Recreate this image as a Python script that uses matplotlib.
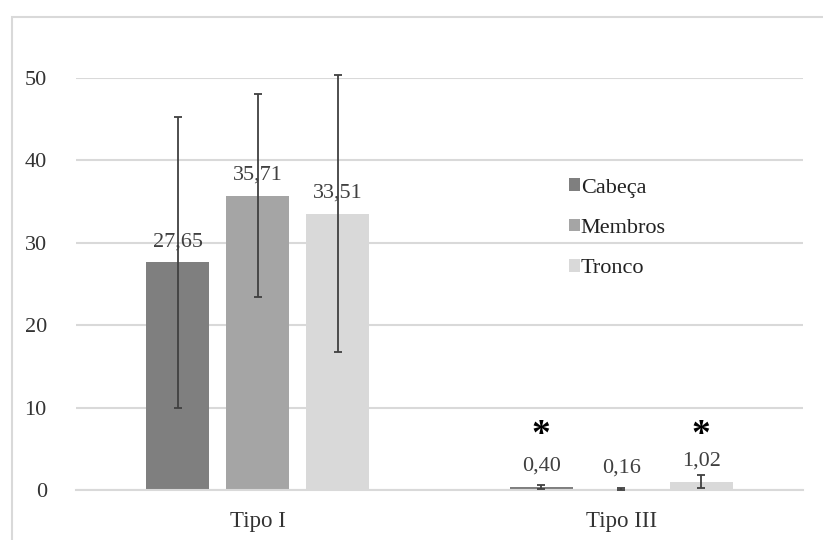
import matplotlib.pyplot as plt
import numpy as np
from matplotlib.patches import Rectangle

# ---------------------------------------------------------------------------
# Data
# ---------------------------------------------------------------------------
categories = ["Tipo I", "Tipo III"]
series_names = ["Cabeça", "Membros", "Tronco"]
cabeca = [27.65, 0.40]
membros = [35.71, 0.16]
tronco = [33.51, 1.02]
cabeca_err = [17.65, 0.25]
membros_err = [12.3, 0.12]
tronco_err = [16.8, 0.75]
value_labels = [["27,65", "0,40"], ["35,71", "0,16"], ["33,51", "1,02"]]
star_marks = [[False, True], [False, False], [False, True]]
y_ticks = [0, 10, 20, 30, 40, 50]

colors = ["#7f7f7f", "#a5a5a5", "#d9d9d9"]
err_color = "#404040"

plt.rcParams["font.family"] = ["Liberation Serif", "DejaVu Serif"]

fig = plt.figure(figsize=(8.23, 5.40), dpi=100)
# outer chart border
fig.patches.append(Rectangle((12 / 823, -0.05), 1.0, (540 - 17) / 540 + 0.05,
                             transform=fig.transFigure, fill=False,
                             edgecolor="#d9d9d9", linewidth=1.5))

ax = fig.add_axes([76 / 823, 50 / 540, 727 / 823, 412 / 540])

x = np.arange(len(categories))
width = 0.173
step = 0.22
values = [cabeca, membros, tronco]
errors = [cabeca_err, membros_err, tronco_err]

for i, (vals, errs) in enumerate(zip(values, errors)):
    pos = x + (i - 1) * step
    ax.bar(pos, vals, width, color=colors[i], label=series_names[i], zorder=2)
    ax.errorbar(pos, vals, yerr=errs, fmt="none", ecolor=err_color,
                elinewidth=1.3, capsize=3, capthick=1.3, zorder=3, clip_on=False)
    for j, p in enumerate(pos):
        ax.text(p, vals[j] + 2.5, value_labels[i][j], ha="center", va="center",
                fontsize=16, color="#404040")
        if star_marks[i][j]:
            ax.text(p, 6.6, "*", ha="center", va="center", fontsize=27,
                    fontweight="bold", color="black")

ax.set_xlim(-0.5, 1.5)
ax.set_ylim(0, 50)
ax.set_yticks(y_ticks)
ax.set_yticklabels([str(t) for t in y_ticks], fontsize=16, color="#333333")
ax.set_xticks(x)
ax.set_xticklabels(categories, fontsize=16.5, color="#333333")
ax.tick_params(axis="both", length=0)
ax.tick_params(axis="y", pad=21)
ax.tick_params(axis="x", pad=15)
ax.yaxis.grid(True, color="#d9d9d9", linewidth=1.5, zorder=0)
ax.set_axisbelow(True)
for s in ["top", "right", "left"]:
    ax.spines[s].set_visible(False)
ax.spines["bottom"].set_color("#d9d9d9")
ax.spines["bottom"].set_linewidth(1.5)

leg = ax.legend(loc="upper left", bbox_to_anchor=(0.65, 0.805), frameon=False,
                fontsize=16, handlelength=0.5, handleheight=0.5,
                handletextpad=0.05, labelspacing=0.95)
for t in leg.get_texts():
    t.set_color("#222222")

fig.savefig("out.png", dpi=100)
